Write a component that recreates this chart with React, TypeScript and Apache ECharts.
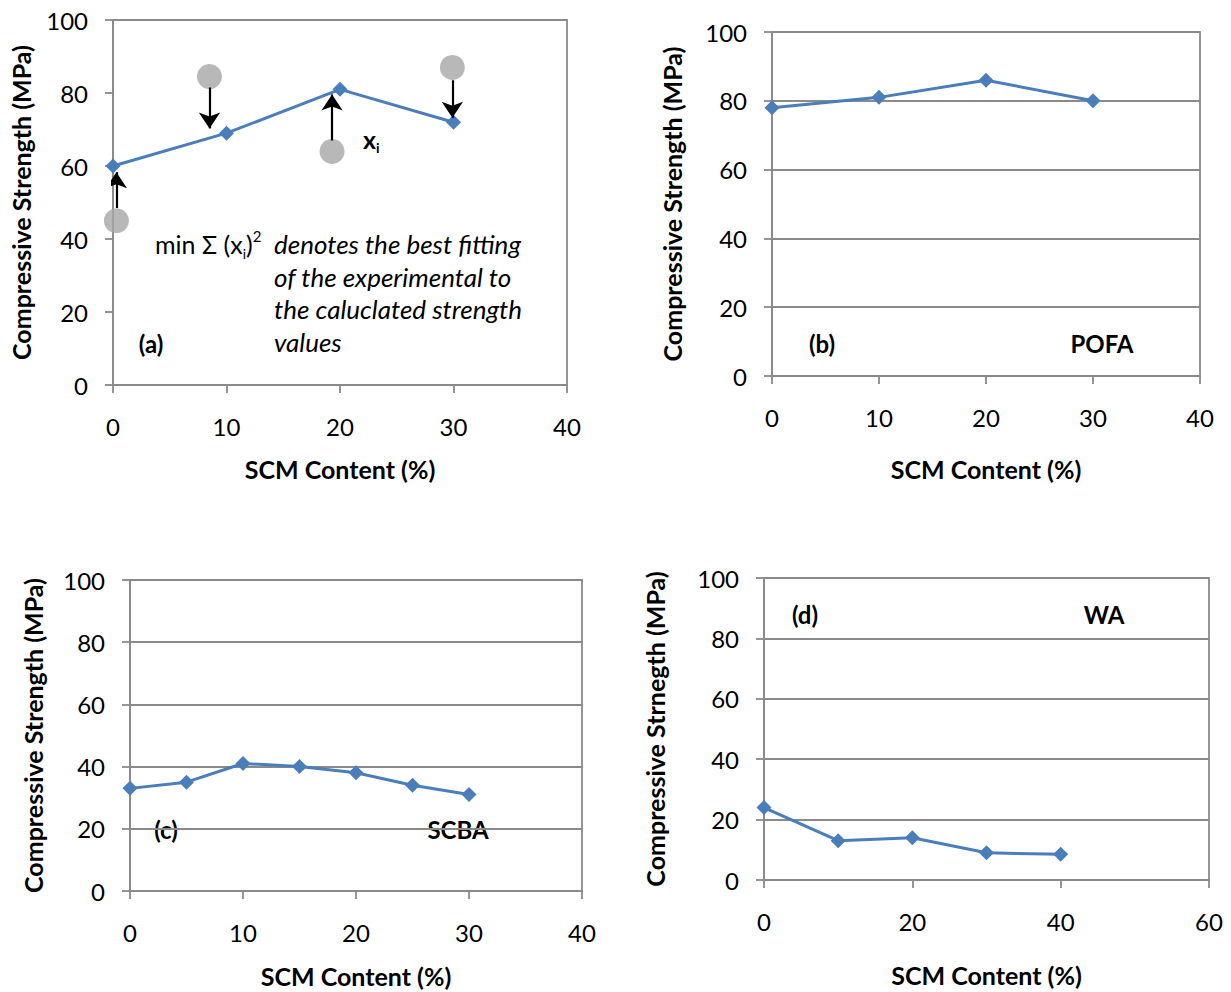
import React, { useEffect, useRef } from 'react';
import * as echarts from 'echarts';

const FONT = 'Lato, "Liberation Sans", sans-serif';
const BLUE = '#4a7ebb';
const GRAYLINE = '#8a8a8a';

// Panel (a) – calculated vs experimental illustration
const aX = [0, 10, 20, 30];
const aY = [60, 69, 81, 72];
const aExpX = [0.3, 8.5, 19.3, 29.9];
const aExpY = [45, 84.5, 64, 87];
const aArrowFrom = [48.5, 81.5, 67, 83.5];
const aArrowTo = [58.3, 70.3, 79.6, 73.2];

// Panel (b) POFA
const bX = [0, 10, 20, 30];
const bY = [78, 81, 86, 80];

// Panel (c) SCBA
const cX = [0, 5, 10, 15, 20, 25, 30];
const cY = [33, 35, 41, 40, 38, 34, 31];

// Panel (d) WA
const dX = [0, 10, 20, 30, 40];
const dY = [24, 13, 14, 9, 8.5];

const xMaxes = [40, 40, 40, 60];
const xSteps = [10, 10, 10, 20];
const yTitles = [
  'Compressive Strength (MPa)',
  'Compressive Strength (MPa)',
  'Compressive Strength (MPa)',
  'Compressive Strnegth (MPa)',
];

const grids = [
  { left: 113, top: 20, width: 454, height: 365 },
  { left: 772, top: 32, width: 428, height: 344 },
  { left: 130, top: 580, width: 452, height: 311 },
  { left: 764, top: 578, width: 445, height: 302 },
];
const yNameGaps = [80, 88, 85, 97];
const xNameGaps = [71, 80, 72, 82];
const showSplit = [false, true, true, true];

function pairs(xs: number[], ys: number[]) {
  return xs.map((x, i) => [x, ys[i]]);
}

function lineSeries(idx: number, xs: number[], ys: number[]) {
  return {
    type: 'line',
    xAxisIndex: idx,
    yAxisIndex: idx,
    data: pairs(xs, ys),
    symbol: 'diamond',
    symbolSize: 15,
    lineStyle: { color: BLUE, width: 3 },
    itemStyle: { color: BLUE },
    z: 3,
  };
}

function label(text: string, x: number, y: number, align = 'center') {
  return {
    type: 'text',
    x,
    y,
    style: {
      text,
      font: `bold 24px ${FONT}`,
      fill: '#000',
      align,
      textAlign: align,
      verticalAlign: 'middle',
      textVerticalAlign: 'middle',
    },
  };
}

export default function App() {
  const ref = useRef<HTMLDivElement>(null);
  useEffect(() => {
    document.body.style.margin = '0';
    const chart = echarts.init(ref.current!, undefined, { renderer: 'svg' });

    const xAxis = grids.map((_, i) => ({
      type: 'value',
      gridIndex: i,
      min: 0,
      max: xMaxes[i],
      interval: xSteps[i],
      name: 'SCM Content (%)',
      nameLocation: 'middle',
      nameGap: xNameGaps[i],
      nameTextStyle: { fontFamily: FONT, fontWeight: 'bold', fontSize: 25, color: '#000' },
      axisLine: { show: true, onZero: false, lineStyle: { color: GRAYLINE, width: 1.8 } },
      axisTick: { show: true, length: 8, lineStyle: { color: GRAYLINE, width: 1.8 } },
      axisLabel: { margin: 29, fontFamily: FONT, fontSize: 24, color: '#000' },
      splitLine: { show: false },
    }));

    const yAxis = grids.map((_, i) => ({
      type: 'value',
      gridIndex: i,
      min: 0,
      max: 100,
      interval: 20,
      name: yTitles[i],
      nameLocation: 'middle',
      nameRotate: 90,
      nameGap: yNameGaps[i],
      nameTextStyle: { fontFamily: FONT, fontWeight: 'bold', fontSize: 25, color: '#000' },
      axisLine: { show: true, onZero: false, lineStyle: { color: GRAYLINE, width: 1.8 } },
      axisTick: { show: true, length: 8, lineStyle: { color: GRAYLINE, width: 1.8 } },
      axisLabel: { margin: 25, fontFamily: FONT, fontSize: 24, color: '#000' },
      splitLine: { show: showSplit[i], lineStyle: { color: GRAYLINE, width: 1.8 } },
    }));

    const option = {
      animation: false,
      backgroundColor: '#fff',
      grid: grids.map((g) => ({
        ...g,
        show: true,
        borderColor: GRAYLINE,
        borderWidth: 1.8,
        backgroundColor: 'transparent',
        containLabel: false,
      })),
      xAxis,
      yAxis,
      series: [
        lineSeries(0, aX, aY),
        {
          type: 'scatter',
          xAxisIndex: 0,
          yAxisIndex: 0,
          data: pairs(aExpX, aExpY),
          symbol: 'circle',
          symbolSize: 25,
          itemStyle: { color: '#a6a6a6' },
          z: 2,
        },
        {
          type: 'lines',
          coordinateSystem: 'cartesian2d',
          xAxisIndex: 0,
          yAxisIndex: 0,
          symbol: ['none', 'arrow'],
          symbolSize: 16,
          lineStyle: { color: '#000', width: 2.2, opacity: 1 },
          data: aExpX.map((x, i) => ({ coords: [[x, aArrowFrom[i]], [x, aArrowTo[i]]] })),
          z: 4,
        },
        lineSeries(1, bX, bY),
        lineSeries(2, cX, cY),
        lineSeries(3, dX, dY),
      ],
      graphic: [
        label('(a)', 151, 343),
        {
          type: 'text',
          x: 363,
          y: 140,
          style: {
            text: '{b|x}{s|i}',
            align: 'left',
            verticalAlign: 'middle',
            rich: {
              b: { font: `bold 25px ${FONT}`, fill: '#000', lineHeight: 28, verticalAlign: 'top' },
              s: { font: `bold 14px ${FONT}`, fill: '#000', lineHeight: 28, verticalAlign: 'bottom' },
            },
          },
        },
        {
          type: 'text',
          x: 155,
          y: 244,
          style: {
            text: '{n|min Σ (x}{s|i}{n|)}{p|2}',
            align: 'left',
            verticalAlign: 'middle',
            rich: {
              n: { font: `25px ${FONT}`, fill: '#000', lineHeight: 32, verticalAlign: 'middle' },
              s: { font: `14px ${FONT}`, fill: '#000', lineHeight: 32, verticalAlign: 'bottom' },
              p: { font: `15px ${FONT}`, fill: '#000', lineHeight: 32, verticalAlign: 'top' },
            },
          },
        },
        {
          type: 'text',
          x: 274,
          y: 228,
          style: {
            text: 'denotes the best fitting\nof the experimental to\nthe caluclated strength\nvalues',
            font: `italic 26px ${FONT}`,
            lineHeight: 32.5,
            fill: '#000',
            align: 'left',
            verticalAlign: 'top',
          },
        },
        label('(b)', 822, 343),
        label('POFA', 1102, 343),
        label('(c)', 166, 829),
        label('SCBA', 458, 829),
        label('(d)', 805, 614),
        label('WA', 1104, 614),
      ],
    };
    chart.setOption(option as any);
    return () => chart.dispose();
  }, []);
  return <div ref={ref} style={{ width: 1231, height: 992 }} />;
}
